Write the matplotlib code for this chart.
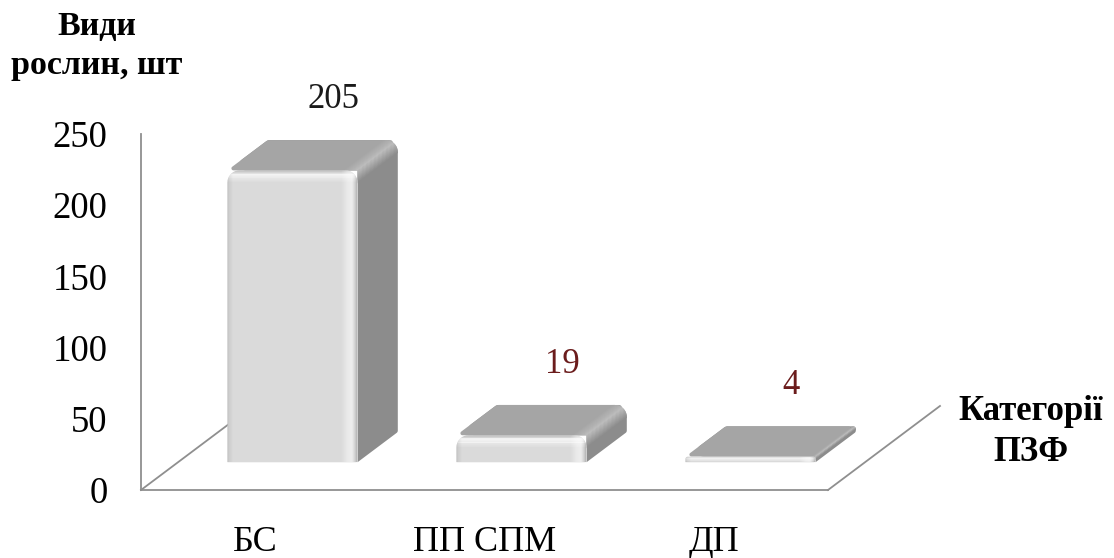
import numpy as np
import matplotlib
matplotlib.use("Agg")
import matplotlib.pyplot as plt
from matplotlib.patches import Polygon

categories = ["БС", "ПП СПМ", "ДП"]
species = [205, 19, 4]
label_colors = ["#1a1a1a", "#6b1c1c", "#6b1c1c"]
yticks = [0, 50, 100, 150, 200, 250]

plt.rcParams["font.family"] = ["Liberation Serif", "DejaVu Serif"]

W, H = 1114, 558
fig = plt.figure(figsize=(W / 100, H / 100), dpi=100)
ax = fig.add_axes([141 / W, 68 / H, 687 / W, 356 / H])
ax.set_xlim(-0.5, 2.5)
ax.set_ylim(0, 250)
ax.set_facecolor("none")
for s in ("top", "right"):
    ax.spines[s].set_visible(False)
for s in ("left", "bottom"):
    ax.spines[s].set_color("#8f8f8f")
    ax.spines[s].set_linewidth(1.3)
ax.set_xticks(range(len(categories)), categories, fontsize=26)
ax.set_yticks(yticks, [str(t) for t in yticks], fontsize=26.5)
ax.tick_params(length=0)
ax.tick_params(axis="x", pad=26)
ax.tick_params(axis="y", pad=24)

# oblique depth of the floor, in data units
DX, DY = 0.489, 59.0
D0, D1 = 0.33, 0.69      # front / back of the columns as a share of the depth
HALF = 0.284             # half column width

# floor edges going back
ax.plot([-0.5, -0.5 + DX], [0, DY], color="#8f8f8f", lw=1.3, zorder=1, clip_on=False)
ax.plot([2.5, 2.5 + DX], [0, DY], color="#8f8f8f", lw=1.3, zorder=1, clip_on=False)

inv = ax.transData.inverted()


def screen(x, v, d):
    return ax.transData.transform((x + d * DX, v + d * DY))


def fillet(pts, radii, n=10):
    pts = np.asarray(pts, float)
    out = []
    m = len(pts)
    for k in range(m):
        p, a, b = pts[k], pts[k - 1], pts[(k + 1) % m]
        r = radii[k]
        if r <= 0:
            out.append(p)
            continue
        u1 = a - p
        l1 = np.hypot(*u1)
        u1 = u1 / l1
        u2 = b - p
        l2 = np.hypot(*u2)
        u2 = u2 / l2
        half = np.arccos(np.clip(u1 @ u2, -1, 1)) / 2
        t = r / np.tan(half)
        tmax = 0.45 * min(l1, l2)
        if t > tmax:
            t = tmax
            r = t * np.tan(half)
        t1, t2 = p + u1 * t, p + u2 * t
        bis = (u1 + u2) / np.hypot(*(u1 + u2))
        c = p + bis * r / np.sin(half)
        a1 = np.arctan2(t1[1] - c[1], t1[0] - c[0])
        a2 = np.arctan2(t2[1] - c[1], t2[0] - c[0])
        d = (a2 - a1 + np.pi) % (2 * np.pi) - np.pi
        s = np.linspace(0, 1, n)
        out.extend(c + r * np.c_[np.cos(a1 + s * d), np.sin(a1 + s * d)])
    return np.array(out)


def face(pts, color, z):
    p = Polygon(inv.transform(pts), closed=True, facecolor=color,
                edgecolor="none", zorder=z, clip_on=False)
    ax.add_patch(p)
    return p


def strip(pts, color, z, clip):
    p = Polygon(inv.transform(pts), closed=True, facecolor=color,
                edgecolor="none", zorder=z)
    ax.add_patch(p)
    p.set_clip_path(clip)
    p.set_clip_box(fig.bbox)


def shade(base, g):
    # white or black overlay that turns `base` into grey level `g`
    if g >= base:
        return (1, 1, 1, (g - base) / (1 - base))
    return (0, 0, 0, (base - g) / base)


FRONT, TOP, SIDE = 0.855, 0.647, 0.55


def draw_column(xc, value, z):
    xl, yb = screen(xc - HALF, 0, D0)
    xr = screen(xc + HALF, 0, D0)[0]
    yt = screen(xc - HALF, value, D0)[1]
    ddx, ddy = screen(xc - HALF, 0, D1) - screen(xc - HALF, 0, D0)
    h = yt - yb
    r = min(12, h * 0.45)
    f = min(1.0, h / 25)

    # top + right side silhouette
    sil = [(xl, yt), (xr, yt), (xr, yb), (xr + ddx, yb + ddy),
           (xr + ddx, yt + ddy), (xl + ddx, yt + ddy)]
    sil_p = face(fillet(sil, [6, 0, 0, 3, min(12, h * 0.9), 6]), str(SIDE), z)

    top = [(xl, yt), (xr, yt), (xr + ddx, yt + ddy), (xl + ddx, yt + ddy)]
    face(fillet(top, [2, 0, 2.5, 6]), str(TOP), z + 0.1)

    # rounded edge between top and side
    F = np.array([xr, yt])
    B = np.array([xr + ddx, yt + ddy])
    e = (B - F) / np.hypot(*(B - F))
    nrm = np.array([e[1], -e[0]])
    prof_s = np.array([-9, -4, 0, 4, 10]) * f
    prof_g = [TOP, 0.70, 0.76, 0.68, SIDE]
    for s in np.arange(prof_s[0], prof_s[-1], 0.8):
        g = np.interp(s + 0.4, prof_s, prof_g)
        pts = [F + nrm * s - e * 30, B + nrm * s + e * 30,
               B + nrm * (s + 0.9) + e * 30, F + nrm * (s + 0.9) - e * 30]
        strip(pts, str(g), z + 0.2, sil_p)

    # front face with rounded top corners
    front = [(xl, yb), (xr, yb), (xr, yt), (xl, yt)]
    fr_p = face(fillet(front, [0, 1.5, r, r]), str(FRONT), z + 0.3)

    k = min(1.0, h / 14)
    tp_t = np.array([0, 1.5, 4, 7, 12]) * k
    tp_g = [0.72, 0.80, 0.96, 0.92, FRONT]
    for t in np.arange(0, tp_t[-1], 0.8):
        g = np.interp(t + 0.4, tp_t, tp_g)
        strip([(xl, yt - t), (xr, yt - t), (xr, yt - t - 0.9), (xl, yt - t - 0.9)],
              shade(FRONT, g), z + 0.4, fr_p)
    rt_u = [0, 2, 5, 9, 16]
    rt_g = [0.70, 0.82, 0.93, 0.92, FRONT]
    for u in np.arange(0, 16, 1.0):
        g = np.interp(u + 0.5, rt_u, rt_g)
        strip([(xr - u, yb), (xr - u, yt), (xr - u - 1.05, yt), (xr - u - 1.05, yb)],
              shade(FRONT, g), z + 0.4, fr_p)
    lf_u = [0, 2, 6]
    lf_g = [0.74, 0.80, FRONT]
    for u in np.arange(0, 6, 1.0):
        g = np.interp(u + 0.5, lf_u, lf_g)
        strip([(xl + u, yb), (xl + u, yt), (xl + u + 1.05, yt), (xl + u + 1.05, yb)],
              shade(FRONT, g), z + 0.4, fr_p)


for i, v in enumerate(species):
    draw_column(i, v, 3 + i)
    ax.annotate(str(v), xy=(i, v), xytext=(56, 71), textcoords="offset points",
                ha="center", va="center", fontsize=25, color=label_colors[i],
                annotation_clip=False, zorder=10)

fig.text(97 / W, 1 - 46 / H, "Види\nрослин, шт", ha="center", va="center",
         fontsize=24.5, fontweight="bold", linespacing=1.3)
fig.text(1031 / W, 1 - 432 / H, "Категорії\nПЗФ", ha="center", va="center",
         fontsize=25, fontweight="bold", linespacing=1.3)

fig.savefig("out.png", dpi=100, facecolor="white")
